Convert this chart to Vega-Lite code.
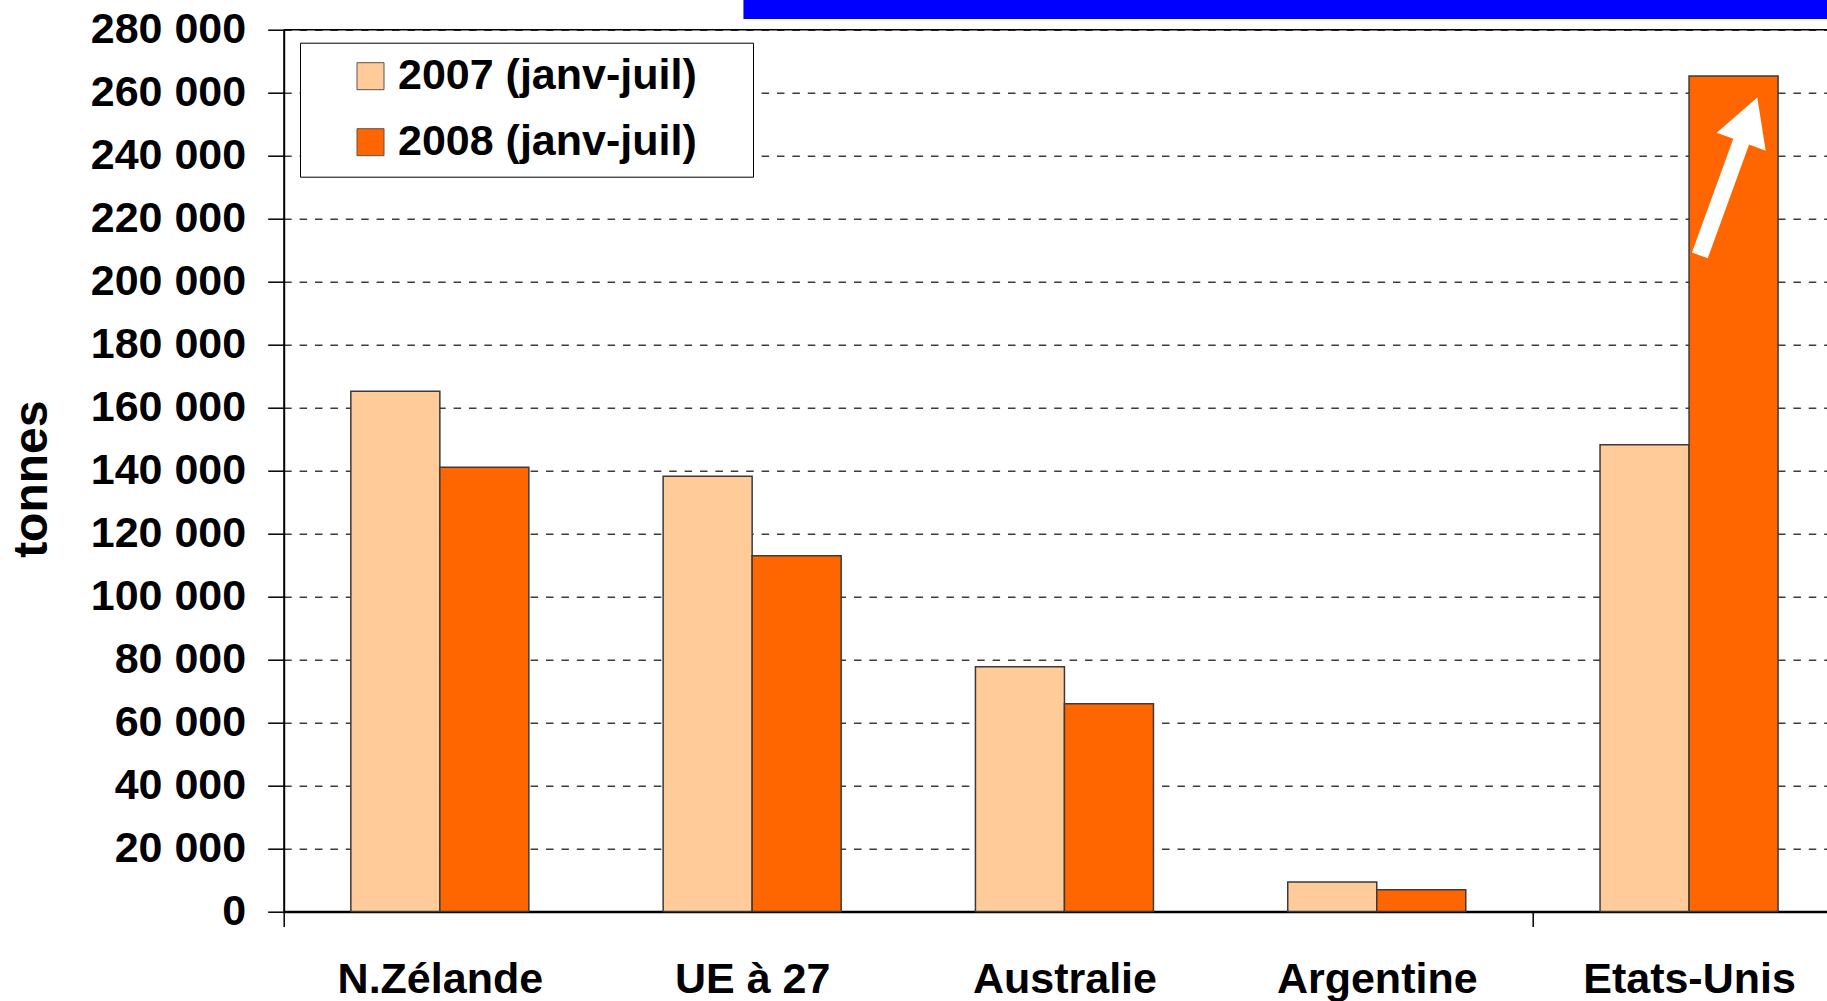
{
  "$schema": "https://vega.github.io/schema/vega-lite/v6.json",
  "width": 1543.3,
  "height": 881.8,
  "autosize": {"type": "none"},
  "padding": {"left": 283.7, "top": 29.7, "right": 0, "bottom": 89.5},
  "background": "white",
  "config": {
    "locale": {"number": {"decimal": ",", "thousands": " ", "grouping": [3], "currency": ["", " €"]}},
    "view": {"stroke": null},
    "font": "Liberation Sans"
  },
  "datasets": {
    "exports": [
      {"pays": "N.Zélande", "periode": "2007 (janv-juil)", "tonnes": 165200},
      {"pays": "N.Zélande", "periode": "2008 (janv-juil)", "tonnes": 141100},
      {"pays": "UE à 27", "periode": "2007 (janv-juil)", "tonnes": 138200},
      {"pays": "UE à 27", "periode": "2008 (janv-juil)", "tonnes": 113000},
      {"pays": "Australie", "periode": "2007 (janv-juil)", "tonnes": 77700},
      {"pays": "Australie", "periode": "2008 (janv-juil)", "tonnes": 66000},
      {"pays": "Argentine", "periode": "2007 (janv-juil)", "tonnes": 9400},
      {"pays": "Argentine", "periode": "2008 (janv-juil)", "tonnes": 6900},
      {"pays": "Etats-Unis", "periode": "2007 (janv-juil)", "tonnes": 148200},
      {"pays": "Etats-Unis", "periode": "2008 (janv-juil)", "tonnes": 265300}
    ]
  },
  "layer": [
    {
      "data": {"name": "exports"},
      "mark": {"type": "bar", "stroke": "#3a3a3a", "strokeWidth": 1.5},
      "encoding": {
        "x": {
          "field": "pays",
          "type": "nominal",
          "sort": ["N.Zélande", "UE à 27", "Australie", "Argentine", "Etats-Unis"],
          "scale": {"range": [0, 1561.5], "paddingInner": 0.43, "paddingOuter": 0.215},
          "axis": {
            "title": null,
            "labelAngle": 0,
            "labelFont": "Liberation Sans",
            "labelFontSize": 43,
            "labelFontWeight": "bold",
            "labelColor": "black",
            "labelPadding": 32,
            "labelBaseline": "top",
            "labelLimit": 0,
            "labelOverlap": false,
            "labelOffset": 156.15,
            "tickSize": 15,
            "tickWidth": 1.5,
            "tickOffset": -156.15,
            "tickColor": {"condition": {"test": "datum.value === 'N.Zélande' || datum.value === 'Etats-Unis'", "value": "black"}, "value": "transparent"},
            "domainColor": "black",
            "domainWidth": 2.5,
            "grid": false
          }
        },
        "xOffset": {"field": "periode", "type": "nominal", "sort": ["2007 (janv-juil)", "2008 (janv-juil)"]},
        "y": {
          "field": "tonnes",
          "type": "quantitative",
          "scale": {"domain": [0, 280000], "nice": false},
          "axis": {
            "title": "tonnes",
            "values": [0, 20000, 40000, 60000, 80000, 100000, 120000, 140000, 160000, 180000, 200000, 220000, 240000, 260000, 280000],
            "format": ",d",
            "labelFont": "Liberation Sans",
            "labelFontSize": 43,
            "labelFontWeight": "bold",
            "labelColor": "black",
            "labelPadding": 22,
            "labelOverlap": false,
            "labelFlush": false,
            "tickSize": 16,
            "tickColor": "black",
            "tickWidth": 1.5,
            "domainColor": "black",
            "domainWidth": 2,
            "grid": true,
            "gridColor": "#3c3c3c",
            "gridWidth": 1.4,
            "gridDash": [7.5, 7.9],
            "titleFont": "Liberation Sans",
            "titleFontSize": 48,
            "titleFontWeight": "bold",
            "titleColor": "black",
            "titlePadding": 34,
            "titleY": 449
          }
        },
        "color": {
          "field": "periode",
          "type": "nominal",
          "scale": {"domain": ["2007 (janv-juil)", "2008 (janv-juil)"], "range": ["#FFCC99", "#FF6600"]},
          "legend": {
            "title": null,
            "orient": "none",
            "legendX": 16.3,
            "legendY": 13,
            "direction": "vertical",
            "fillColor": "white",
            "strokeColor": "black",
            "padding": 12,
            "symbolType": "square",
            "symbolSize": 729,
            "symbolStrokeColor": "#555555",
            "symbolStrokeWidth": 1,
            "symbolOpacity": 1,
            "symbolOffset": 37,
            "labelFont": "Liberation Sans",
            "labelFontSize": 43,
            "labelFontWeight": "bold",
            "labelColor": "black",
            "labelOffset": 6,
            "labelLimit": 0,
            "rowPadding": 22,
            "labelExpr": "datum.label + ' \u2800'"
          }
        }
      }
    },
    {
      "data": {"values": [{}]},
      "mark": {"type": "rule", "color": "black", "strokeWidth": 1.5},
      "encoding": {"y": {"datum": 280000}}
    },
    {
      "data": {"values": [{}]},
      "mark": {"type": "rect", "color": "#0000FF", "clip": false},
      "encoding": {
        "x": {"datum": "UE à 27", "bandPosition": 0.451},
        "x2": {"datum": "Etats-Unis", "bandPosition": 1.6},
        "y": {"datum": 283400},
        "y2": {"datum": 300000}
      }
    },
    {
      "data": {"values": [{}]},
      "mark": {
        "type": "point",
        "shape": "M0,-1L0.31,-0.44L0.1,-0.44L0.1,1L-0.1,1L-0.1,-0.44L-0.31,-0.44Z",
        "filled": true,
        "color": "white",
        "size": 28224,
        "angle": 20,
        "opacity": 1,
        "strokeWidth": 0
      },
      "encoding": {
        "x": {"datum": "Etats-Unis", "bandPosition": 0.722},
        "y": {"datum": 233400}
      }
    }
  ]
}
